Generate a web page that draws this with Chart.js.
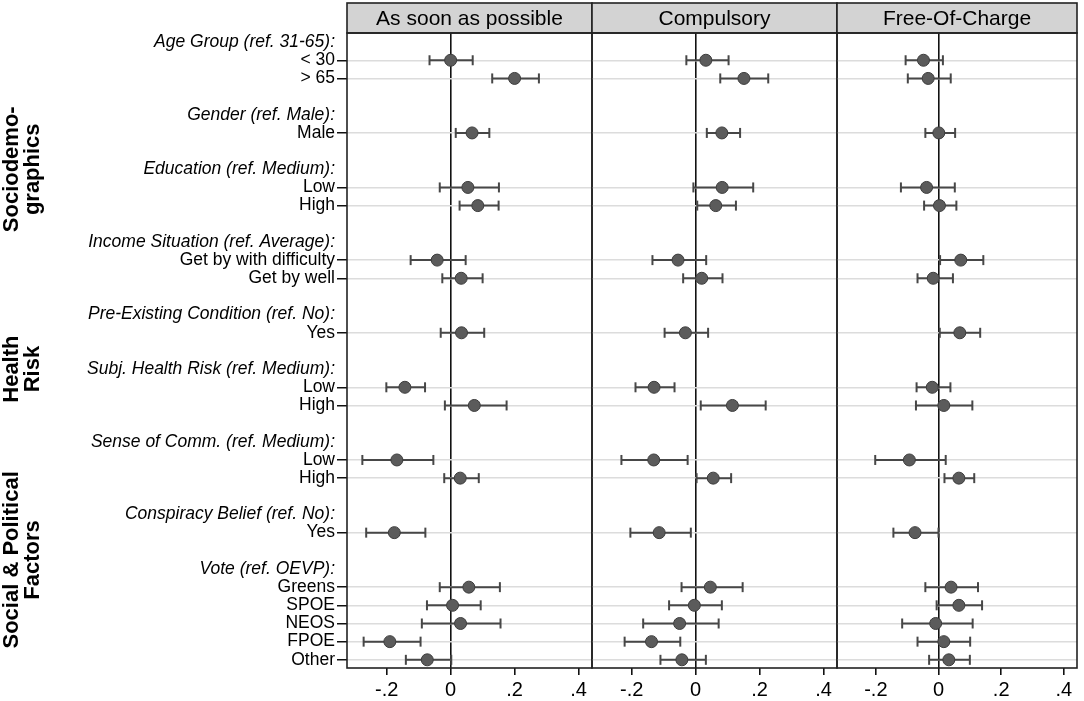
<!DOCTYPE html>
<html>
<head>
<meta charset="utf-8">
<script src="https://cdn.jsdelivr.net/npm/chart.js@4/dist/chart.umd.min.js"></script>
<style>
  html, body { margin: 0; padding: 0; background: #fff; }
  #wrap { position: relative; width: 1084px; height: 701px; overflow: hidden; }
  #wrap canvas { position: absolute; top: 0; }
</style>
</head>
<body>
<div id="wrap">
  <canvas id="p1" width="600" height="701" style="left:0px"></canvas>
  <canvas id="p2" width="261" height="701" style="left:584px"></canvas>
  <canvas id="p3" width="255" height="701" style="left:829px"></canvas>
</div>
<script>
// Filas del eje Y (cabeceras en cursiva terminan en ':', '' = hueco)
const rowLabels = [
  'Age Group (ref. 31-65):', '< 30', '> 65', '',
  'Gender (ref. Male):', 'Male', '',
  'Education (ref. Medium):', 'Low', 'High', '',
  'Income Situation (ref. Average):', 'Get by with difficulty', 'Get by well', '',
  'Pre-Existing Condition (ref. No):', 'Yes', '',
  'Subj. Health Risk (ref. Medium):', 'Low', 'High', '',
  'Sense of Comm. (ref. Medium):', 'Low', 'High', '',
  'Conspiracy Belief (ref. No):', 'Yes', '',
  'Vote (ref. OEVP):', 'Greens', 'SPOE', 'NEOS', 'FPOE', 'Other'
];

const panelTitles = ['As soon as possible', 'Compulsory', 'Free-Of-Charge'];
const xTicks = [-0.2, 0, 0.2, 0.4];

// Títulos de grupo (lado izquierdo) y filas que abarcan
const groupTitles = [['Sociodemo-', 'graphics'], ['Health', 'Risk'], ['Social & Political', 'Factors']];
const groupFirstRow = [0, 15, 22];
const groupLastRow = [13, 20, 34];

// Coeficientes e intervalos (orden: filas de categorías)
const asapCoef = [0.000, 0.200, 0.067, 0.054, 0.085, -0.042, 0.033, 0.034, -0.143, 0.074, -0.168, 0.030, -0.176, 0.057, 0.006, 0.031, -0.190, -0.073];
const asapLow  = [-0.066, 0.130, 0.016, -0.034, 0.028, -0.125, -0.026, -0.031, -0.201, -0.018, -0.276, -0.020, -0.264, -0.034, -0.074, -0.090, -0.272, -0.140];
const asapHigh = [0.069, 0.276, 0.121, 0.151, 0.150, 0.047, 0.100, 0.105, -0.080, 0.175, -0.054, 0.088, -0.079, 0.154, 0.094, 0.156, -0.094, 0.002];

const compCoef = [0.032, 0.151, 0.082, 0.083, 0.063, -0.055, 0.019, -0.032, -0.130, 0.115, -0.131, 0.055, -0.114, 0.046, -0.004, -0.050, -0.138, -0.043];
const compLow  = [-0.029, 0.077, 0.035, -0.007, 0.005, -0.135, -0.039, -0.097, -0.188, 0.016, -0.232, 0.003, -0.204, -0.044, -0.083, -0.164, -0.222, -0.110];
const compHigh = [0.103, 0.227, 0.139, 0.180, 0.126, 0.033, 0.084, 0.039, -0.066, 0.219, -0.025, 0.111, -0.015, 0.147, 0.082, 0.072, -0.048, 0.032];

const freeCoef = [-0.048, -0.033, 0.001, -0.038, 0.003, 0.071, -0.017, 0.068, -0.020, 0.017, -0.093, 0.065, -0.075, 0.040, 0.065, -0.009, 0.017, 0.033];
const freeLow  = [-0.105, -0.098, -0.042, -0.120, -0.046, 0.005, -0.067, 0.004, -0.070, -0.072, -0.202, 0.019, -0.144, -0.042, -0.006, -0.116, -0.067, -0.030];
const freeHigh = [0.014, 0.039, 0.053, 0.052, 0.057, 0.143, 0.046, 0.133, 0.038, 0.108, 0.023, 0.114, 0.000, 0.126, 0.139, 0.109, 0.101, 0.100];

const FONT = "'Liberation Sans', Arial, Helvetica, sans-serif";
Chart.defaults.font.family = FONT;
Chart.defaults.color = '#000';

const isHeader = i => rowLabels[i] && rowLabels[i].endsWith(':');
const itemRows = rowLabels.map((l, i) => i).filter(i => rowLabels[i] && !isHeader(i));

// Cabecera gris + marco del panel
const panelFrame = {
  id: 'panelFrame',
  afterDraw(chart, args, opts) {
    const { ctx, chartArea: a } = chart;
    ctx.save();
    ctx.lineWidth = 1.6;
    ctx.strokeStyle = '#222';
    ctx.fillStyle = '#d3d3d3';
    ctx.fillRect(a.left, 3, a.right - a.left, a.top - 3);
    ctx.strokeRect(a.left, 3, a.right - a.left, a.top - 3);
    ctx.strokeRect(a.left, a.top, a.right - a.left, a.bottom - a.top);
    ctx.fillStyle = '#000';
    ctx.font = '21px ' + FONT;
    ctx.textAlign = 'center';
    ctx.textBaseline = 'middle';
    ctx.fillText(opts.title, (a.left + a.right) / 2, (a.top + 3) / 2 + 1);
    ctx.restore();
  }
};

// Títulos de grupo girados
const groupLabels = {
  id: 'groupLabels',
  afterDraw(chart, args, opts) {
    if (!opts.show) return;
    const { ctx } = chart;
    const y = chart.scales.y;
    ctx.save();
    ctx.font = 'bold 22px ' + FONT;
    ctx.fillStyle = '#000';
    ctx.textAlign = 'center';
    ctx.textBaseline = 'middle';
    groupTitles.forEach((lines, g) => {
      const cy = y.getPixelForValue((groupFirstRow[g] + groupLastRow[g] + 1) / 2);
      lines.forEach((txt, k) => {
        ctx.save();
        ctx.translate(12 + k * 21, cy);
        ctx.rotate(-Math.PI / 2);
        ctx.fillText(txt, 0, 0);
        ctx.restore();
      });
    });
    ctx.restore();
  }
};

function makePanel(id, title, coef, lo, hi, first) {
  const whiskers = [];
  itemRows.forEach((r, j) => {
    whiskers.push({ x: lo[j], y: r }, { x: hi[j], y: r }, { x: null, y: null });
  });
  const dots = itemRows.map((r, j) => ({ x: coef[j], y: r }));

  return new Chart(document.getElementById(id), {
    type: 'scatter',
    data: {
      datasets: [
        {
          data: dots,
          pointRadius: 6,
          pointBackgroundColor: '#5b5b5b',
          pointBorderColor: '#3d3d3d',
          pointBorderWidth: 1
        },
        {
          data: whiskers,
          showLine: true,
          spanGaps: false,
          borderColor: '#474747',
          borderWidth: 2,
          pointStyle: 'line',
          rotation: 90,
          pointRadius: 5,
          pointBorderColor: '#474747',
          pointBorderWidth: 2
        }
      ]
    },
    options: {
      responsive: false,
      animation: false,
      events: [],
      layout: { padding: { top: 33, left: first ? 0 : 8, right: id === 'p3' ? 2 : 8, bottom: 0 } },
      plugins: {
        legend: { display: false },
        tooltip: { enabled: false },
        panelFrame: { title: title },
        groupLabels: { show: first }
      },
      scales: {
        x: {
          type: 'linear',
          min: -0.324,
          max: 0.442,
          afterBuildTicks: s => { s.ticks = xTicks.map(v => ({ value: v })); },
          afterFit: s => { s.height = 33; },
          border: { display: false },
          grid: {
            color: c => (c.tick && c.tick.value === 0) ? '#111' : 'rgba(0,0,0,0)',
            lineWidth: 1.6,
            tickLength: 7,
            tickColor: '#111'
          },
          ticks: {
            padding: 3,
            font: { size: 20 },
            callback: v => v === 0 ? '0' : (v < 0 ? '-' : '') + '.' + Math.round(Math.abs(v) * 10)
          }
        },
        y: {
          type: 'linear',
          reverse: true,
          min: -0.5,
          max: 34.45,
          afterBuildTicks: s => {
            s.ticks = rowLabels.map((l, i) => i).filter(i => rowLabels[i]).map(i => ({ value: i }));
          },
          afterFit: s => { s.width = first ? 347 : 0; },
          border: { display: false },
          grid: {
            color: c => (c.tick && !isHeader(c.tick.value)) ? '#dcdcdc' : 'rgba(0,0,0,0)',
            lineWidth: 1.5,
            drawTicks: first,
            tickLength: 10,
            tickColor: c => (c.tick && !isHeader(c.tick.value)) ? '#111' : 'rgba(0,0,0,0)'
          },
          ticks: {
            display: first,
            padding: 2,
            autoSkip: false,
            font: c => ({ size: 17.5, style: (c.tick && isHeader(c.tick.value)) ? 'italic' : 'normal' }),
            callback: v => rowLabels[v]
          }
        }
      }
    },
    plugins: [panelFrame, groupLabels]
  });
}

makePanel('p1', panelTitles[0], asapCoef, asapLow, asapHigh, true);
makePanel('p2', panelTitles[1], compCoef, compLow, compHigh, false);
makePanel('p3', panelTitles[2], freeCoef, freeLow, freeHigh, false);
</script>
</body>
</html>
